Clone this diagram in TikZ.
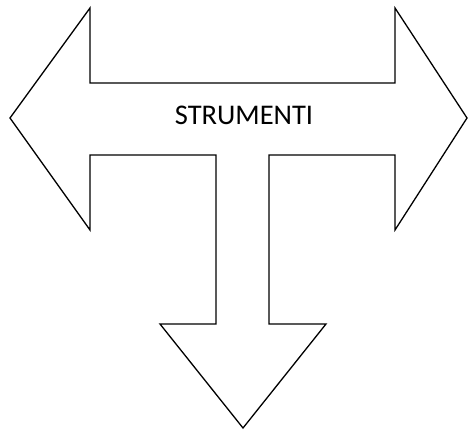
\documentclass[tikz,border=0pt]{standalone}
\usepackage{fontspec}
\setmainfont{Carlito}
\begin{document}
\begin{tikzpicture}[x=1pt,y=-1pt,
  arrowshape/.style={draw=black,line width=1.3pt,line join=miter,fill=white},
  label/.style={font=\fontsize{28.5}{30}\selectfont,inner sep=0pt}]
\useasboundingbox (0,0) rectangle (468,430);
\draw[arrowshape] (10,118) -- (90,8) -- (90,83) -- (395,83) -- (395,8) -- (467,118)
  -- (395,230) -- (395,155) -- (269,155) -- (269,324) -- (326,324) -- (243,428)
  -- (160,324) -- (216,324) -- (216,155) -- (90,155) -- (90,230) -- cycle;
\node[label] (t) at (244,115) {STRUMENTI};
\end{tikzpicture}
\end{document}
